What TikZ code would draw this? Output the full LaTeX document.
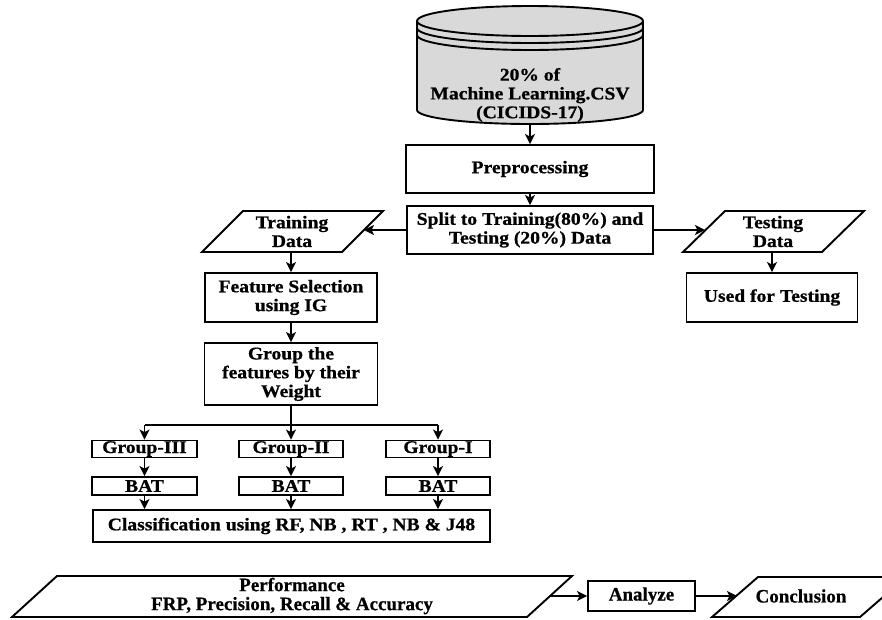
\documentclass[tikz,border=0pt]{standalone}
\usepackage{fontspec}
\setmainfont{Liberation Serif}[FakeStretch=1.1, BoldFeatures={FakeBold=0.8}]
\newfontfamily\plainserif{Liberation Serif}[BoldFeatures={FakeBold=0.6}]
\usetikzlibrary{arrows.meta}
\definecolor{dbgray}{RGB}{217,217,217}
\newcommand\flowfont{\bfseries\fontsize{17.8}{18.8}\selectfont}
\newcommand\lowfont{\plainserif\bfseries\fontsize{19}{19}\selectfont}

\begin{document}
\begin{tikzpicture}[x=1pt,y=-1pt,
  outline/.style={line width=1.9pt, line join=miter},
  box/.style={draw, outline, rectangle, inner sep=0pt, align=center, font=\flowfont},
  label/.style={inner sep=0pt, align=center, font=\flowfont},
  lowlabel/.style={inner sep=0pt, align=center, font=\lowfont},
  arr/.style={line width=1.6pt, -{Stealth[length=10pt,width=10pt,inset=2.5pt]}},
  link/.style={line width=1.6pt}
]
\clip (0,0) rectangle (882,619);

% ---- data source cylinder ----
\fill[dbgray] (417,21) -- (417,110)
  arc[start angle=180,end angle=0,x radius=113,y radius=14] -- (643,21)
  arc[start angle=0,end angle=-180,x radius=113,y radius=15] -- cycle;
\draw[outline] (530,21) ellipse[x radius=113,y radius=15];
\draw[outline] (417,28) arc[start angle=180,end angle=0,x radius=113,y radius=15];
\draw[outline] (417,35) arc[start angle=180,end angle=0,x radius=113,y radius=15];
\draw[outline] (417,21) -- (417,110)
  arc[start angle=180,end angle=0,x radius=113,y radius=14] -- (643,21);
\node[label] (db) at (530,95) {20\% of\\Machine Learning.CSV\\(CICIDS-17)};
\coordinate (dbB) at (530,124);

% ---- main column ----
\node[box, minimum width=248pt, minimum height=48pt] (pre) at (530,169) {Preprocessing};
\node[box, minimum width=246pt, minimum height=48pt] (split) at (530,230)
  {Split to Training(80\%) and\\Testing (20\%) Data};

% ---- training data ----
\draw[outline] (243,211) -- (383,211) -- (342,252) -- (202,252) -- cycle;
\node[label] (train) at (292,231.5) {Training\\Data};
\coordinate (trainR) at (364,230);
\coordinate (trainB) at (291,252);

% ---- testing data ----
\draw[outline] (725,211) -- (864,211) -- (822,252) -- (683,252) -- cycle;
\node[label] (test) at (773,231.5) {Testing\\Data};
\coordinate (testL) at (705,230);
\coordinate (testB) at (772,252);

\node[box, minimum width=171pt, minimum height=49pt] (use) at (772,297.5) {Used for Testing};

% ---- feature processing ----
\node[box, minimum width=172pt, minimum height=49pt] (feat) at (291,297.5) {Feature Selection\\using IG};
\node[box, minimum width=173pt, minimum height=62pt] (grp) at (291,374) {Group the\\features by their\\Weight};
\coordinate (fork) at (291,425);

\node[box, minimum width=105pt, minimum height=17pt] (g3) at (144.5,449) {Group-III};
\node[box, minimum width=104pt, minimum height=17pt] (g2) at (291,449) {Group-II};
\node[box, minimum width=104pt, minimum height=17pt] (g1) at (438,449) {Group-I};

\node[box, minimum width=105pt, minimum height=18pt] (b3) at (144.5,486) {BAT};
\node[box, minimum width=104pt, minimum height=18pt] (b2) at (291,486) {BAT};
\node[box, minimum width=104pt, minimum height=18pt] (b1) at (438,486) {BAT};

\node[box, minimum width=397pt, minimum height=32pt] (cls) at (291.5,526)
  {Classification using RF, NB , RT , NB \& J48};

% ---- bottom row ----
\draw[outline] (57,576) -- (572,576) -- (527,617) -- (12,617) -- cycle;
\node[lowlabel] (perf) at (292,596) {Performance\\FRP, Precision, Recall \& Accuracy};
\coordinate (perfR) at (550,596);

\node[box, font=\lowfont, minimum width=107pt, minimum height=30pt] (ana) at (641.5,596) {Analyze};

\draw[outline] (758,577) -- (906,577) -- (860,617) -- (712,617) -- cycle;
\node[lowlabel] (conc) at (801,596) {Conclusion};
\coordinate (concL) at (737,596);

% ---- connectors ----
\draw[arr] (dbB) -- (pre.north);
\draw[arr] (pre.south) -- (split.north);
\draw[arr] (split.west) -- (trainR);
\draw[arr] (split.east) -- (testL);
\draw[arr] (testB) -- (use.north);
\draw[arr] (trainB) -- (feat.north);
\draw[arr] (feat.south) -- (grp.north);
\draw[arr] (grp.south) -- (g2.north);
\draw[link] (fork -| g3.north) -- (fork -| g1.north);
\draw[arr] (fork -| g3.north) -- (g3.north);
\draw[arr] (fork -| g1.north) -- (g1.north);
\draw[arr] (g3.south) -- (b3.north);
\draw[arr] (g2.south) -- (b2.north);
\draw[arr] (g1.south) -- (b1.north);
\draw[arr] (b3.south) -- (b3.south |- cls.north);
\draw[arr] (b2.south) -- (b2.south |- cls.north);
\draw[arr] (b1.south) -- (b1.south |- cls.north);
\draw[arr] (perfR) -- (ana.west);
\draw[arr] (ana.east) -- (concL);
\end{tikzpicture}
\end{document}
